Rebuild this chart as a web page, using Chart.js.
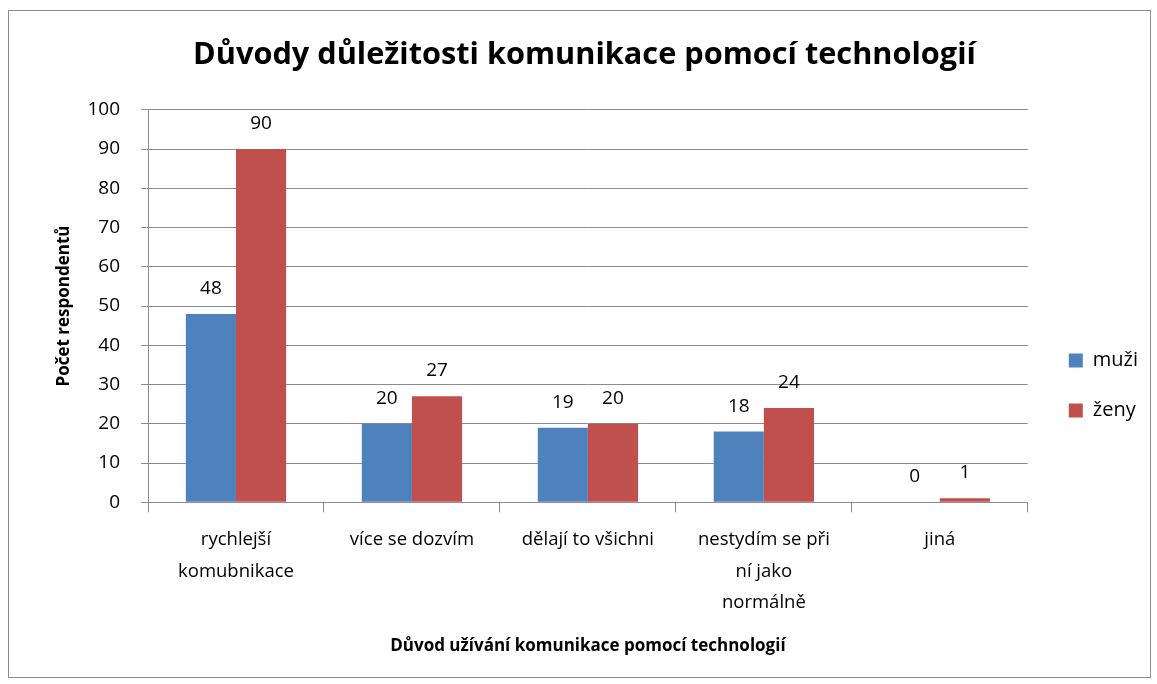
<!DOCTYPE html>
<html lang="cs">
<head>
<meta charset="UTF-8">
<title>Důvody důležitosti komunikace pomocí technologií</title>
<script src="https://cdn.jsdelivr.net/npm/chart.js"></script>
<style>
    body { margin: 0; background: #fff; }
    .frame {
        position: absolute;
        left: 8px; top: 10px;
        width: 1141px; height: 666px;
        border: 1px solid #8c8c8c;
        background: #fff;
    }
</style>
</head>
<body>
<div class="frame">
    <canvas id="chart" width="1141" height="666"></canvas>
</div>
<script>
const categories = [
    ['rychlejší', 'komubnikace'],
    ['více se dozvím'],
    ['dělají to všichni'],
    ['nestydím se při', 'ní jako', 'normálně'],
    ['jiná']
];
const muzi = [48, 20, 19, 18, 0];
const zeny = [90, 27, 20, 24, 1];
const yTicks = [0, 10, 20, 30, 40, 50, 60, 70, 80, 90, 100];

const FONT = "'Open Sans', 'Liberation Sans', sans-serif";
const GRID = '#8c8c8c';

// value labels above the bars
const valueLabels = {
    id: 'valueLabels',
    afterDatasetsDraw(chart) {
        const ctx = chart.ctx;
        ctx.save();
        ctx.font = '19px ' + FONT;
        ctx.fillStyle = '#000';
        ctx.textAlign = 'center';
        ctx.textBaseline = 'bottom';
        chart.data.datasets.forEach((ds, i) => {
            chart.getDatasetMeta(i).data.forEach((bar, j) => {
                ctx.fillText(ds.data[j], bar.x, bar.y - 16);
            });
        });
        ctx.restore();
    }
};

// nudge legend away from the plot, and title back to the middle
const boxShift = {
    id: 'boxShift',
    afterLayout(chart) {
        const lg = chart.legend;
        if (lg) {
            lg.left += 11;
            lg.right += 11;
        }
        const tb = chart.titleBlock;
        if (tb) {
            tb.left -= 9;
            tb.right -= 9;
        }
    }
};

new Chart(document.getElementById('chart'), {
    type: 'bar',
    data: {
        labels: categories,
        datasets: [
            { label: 'muži', data: muzi, backgroundColor: '#4F81BD' },
            { label: 'ženy', data: zeny, backgroundColor: '#C0504D' }
        ]
    },
    options: {
        responsive: false,
        animation: false,
        layout: { padding: { left: 41, right: 13, top: 10, bottom: 21 } },
        datasets: { bar: { categoryPercentage: 0.57, barPercentage: 1 } },
        plugins: {
            title: {
                display: true,
                text: 'Důvody důležitosti komunikace pomocí technologií',
                color: '#000',
                font: { family: FONT, size: 30.7, weight: 'bold' },
                padding: { top: 16, bottom: 36 }
            },
            legend: {
                position: 'right',
                title: {
                    display: true,
                    text: ' ',
                    font: { size: 14 },
                    padding: { top: 77, bottom: 0 }
                },
                labels: {
                    color: '#000',
                    font: { family: FONT, size: 20 },
                    boxWidth: 14,
                    boxHeight: 14,
                    padding: 30
                }
            },
            tooltip: { enabled: false }
        },
        scales: {
            x: {
                afterFit(scale) {
                    scale.paddingLeft = 0;
                    scale.paddingRight = 0;
                },
                grid: {
                    offset: true,
                    drawOnChartArea: false,
                    drawTicks: true,
                    tickLength: 10,
                    color: GRID
                },
                border: { color: GRID },
                ticks: {
                    color: '#000',
                    font: { family: FONT, size: 18.5, lineHeight: 1.7 },
                    maxRotation: 0,
                    autoSkip: false,
                    padding: 12
                },
                title: {
                    display: true,
                    text: 'Důvod užívání komunikace pomocí technologií',
                    color: '#000',
                    font: { family: FONT, size: 17, weight: 'bold' },
                    padding: { top: 5, bottom: 0 }
                }
            },
            y: {
                min: 0,
                max: 100,
                afterBuildTicks(axis) {
                    axis.ticks = yTicks.map(v => ({ value: v }));
                },
                afterFit(scale) {
                    scale.width = 98;
                },
                grid: { color: GRID, tickLength: 7 },
                border: { color: GRID },
                ticks: {
                    color: '#000',
                    font: { family: FONT, size: 19 },
                    padding: 21
                },
                title: {
                    display: true,
                    text: 'Počet respondentů',
                    color: '#000',
                    font: { family: FONT, size: 17, weight: 'bold' },
                    padding: { bottom: 10 }
                }
            }
        }
    },
    plugins: [valueLabels, boxShift]
});
</script>
</body>
</html>
